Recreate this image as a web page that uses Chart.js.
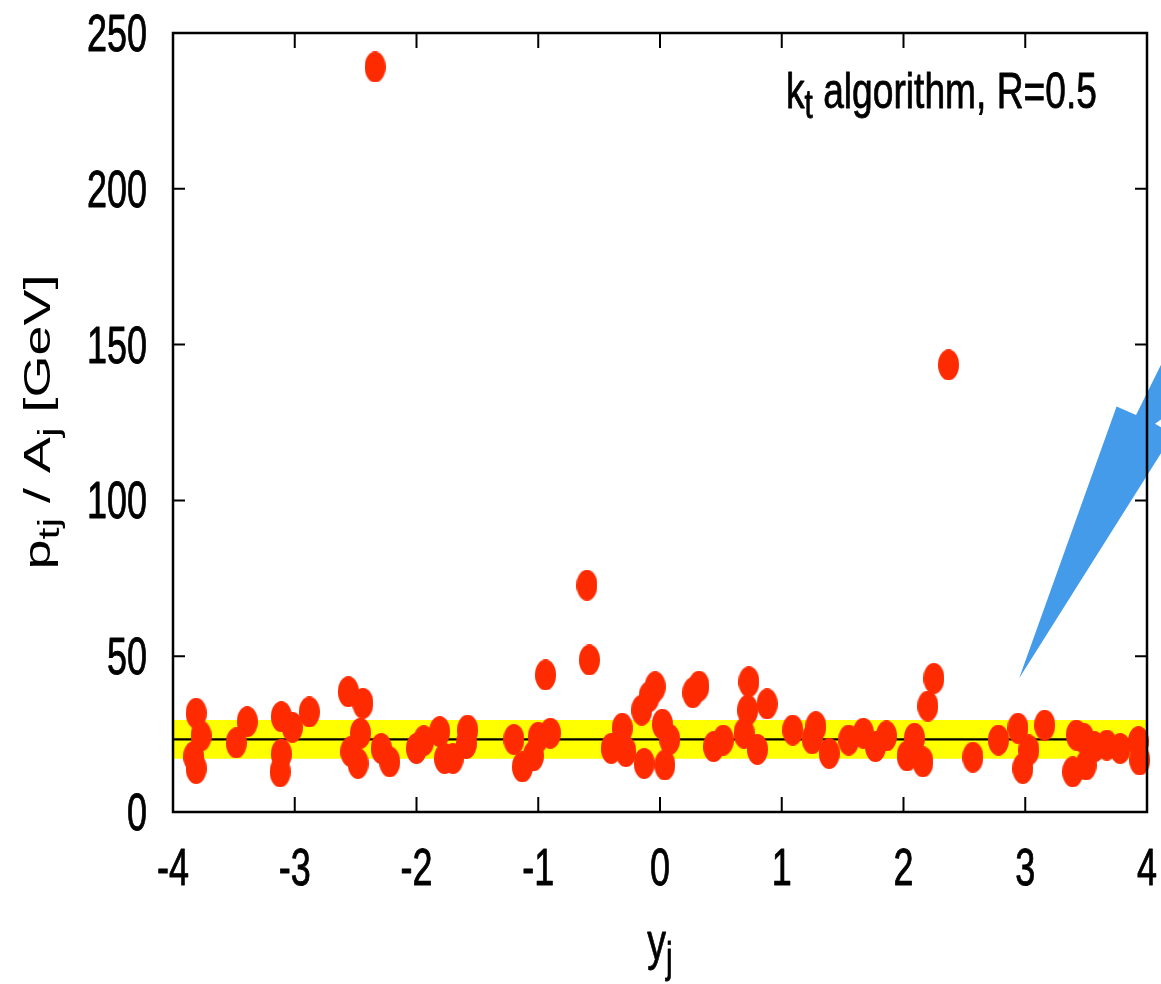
<!DOCTYPE html>
<html lang="en">
<head>
    <meta charset="UTF-8">
    <title>kt algorithm, R=0.5</title>
    <script src="https://cdn.jsdelivr.net/npm/chart.js"></script>
    <style>
        html, body { margin: 0; padding: 0; background: #fff; }
    </style>
</head>
<body>
    <canvas id="jetChart" width="1161" height="984"></canvas>

    <script>
        // jet rapidities and pt/area values
        const jetRap = [
            -3.83, -3.81, -3.81, -3.77, -3.48, -3.39, -3.12, -3.11, -3.11, -3.02,
            -2.88, -2.56, -2.54, -2.48, -2.46, -2.44, -2.34, -2.29, -2.22, -2.00,
            -1.94, -1.81, -1.77, -1.70, -1.59, -1.58, -1.20, -1.13, -1.04, -1.00,
            -0.94, -0.90, -0.60, -0.58, -0.40, -0.31, -0.28, -0.15, -0.13, -0.09,
            -0.04, 0.02, 0.04, 0.08, 0.27, 0.32, 0.44, 0.52, 0.69, 0.72,
            0.73, 0.80, 0.88, 1.09, 1.25, 1.28, 1.39, 1.55, 1.67, 1.77,
            1.86, 2.03, 2.09, 2.16, 2.20, 2.25, 2.37, 2.57, 2.78, 2.94,
            2.98, 3.03, 3.16, 3.39, 3.42, 3.48, 3.50, 3.57, 3.67, 3.78,
            3.93, 3.94
        ];
        const jetPtA = [
            17.8, 31.7, 14.0, 24.4, 22.2, 29.0, 12.9, 30.6, 18.6, 27.2,
            32.1, 38.6, 19.4, 15.6, 25.3, 34.9, 239.1, 20.4, 16.1, 20.4,
            22.9, 25.8, 17.2, 17.2, 22.0, 26.3, 23.3, 14.5, 18.0, 24.0,
            44.0, 25.3, 72.8, 48.8, 20.4, 26.9, 19.4, 32.7, 15.6, 37.0,
            40.2, 28.2, 15.1, 23.3, 38.3, 40.4, 21.0, 23.1, 25.3, 32.7,
            41.8, 20.1, 34.7, 26.3, 23.5, 27.4, 18.8, 23.1, 25.3, 21.0,
            24.4, 18.0, 23.7, 16.1, 34.0, 42.9, 143.5, 17.6, 23.1, 26.9,
            14.0, 19.9, 27.9, 12.9, 24.7, 23.7, 15.1, 21.0, 21.5, 20.4,
            22.6, 16.7
        ];

        // median rho and its band
        const rhoMedian = 23.3;
        const rhoLow = 17.1;
        const rhoHigh = 29.5;

        // blue arrow outline (goes past the right edge)
        const arrowX = [2.95, 3.75, 3.91, 4.115, 4.115, 4.066, 4.115, 4.115];
        const arrowY = [42.9, 130.1, 127.4, 143.5, 126.0, 124.6, 123.5, 115.1];

        const xTickVals = [-4, -3, -2, -1, 0, 1, 2, 3, 4];
        const yTickVals = [0, 50, 100, 150, 200, 250];

        const SANS = "'Liberation Sans', Arial, sans-serif";

        // ellipse marker
        const dot = document.createElement('canvas');
        dot.width = 21;
        dot.height = 31;
        const dctx = dot.getContext('2d');
        dctx.fillStyle = '#ff2b00';
        dctx.beginPath();
        dctx.ellipse(10.5, 15.5, 10.5, 15.5, 0, 0, Math.PI * 2);
        dctx.fill();

        // text with subscripts
        function richWidth(ctx, parts, size) {
            let w = 0;
            parts.forEach(p => {
                ctx.font = (p.sub ? size * 0.8 : size) + 'px ' + SANS;
                w += ctx.measureText(p.t).width;
            });
            return w;
        }
        function placeText(ctx, parts, o) {
            ctx.save();
            ctx.fillStyle = '#000';
            ctx.strokeStyle = '#000';
            ctx.lineJoin = 'round';
            ctx.textBaseline = 'alphabetic';
            ctx.textAlign = 'left';
            ctx.translate(o.x, o.y);
            if (o.rotate) ctx.rotate(-Math.PI / 2);
            const w = richWidth(ctx, parts, o.size);
            const sx = o.width ? o.width / w : o.scaleX;
            ctx.scale(sx, 1);
            let x = o.align === 'right' ? -w : (o.align === 'center' ? -w / 2 : 0);
            parts.forEach(p => {
                const s = p.sub ? o.size * 0.8 : o.size;
                const dy = p.sub ? o.size * (o.subShift || 0.2) : 0;
                ctx.font = s + 'px ' + SANS;
                ctx.fillText(p.t, x, dy);
                if (o.bold) {
                    ctx.lineWidth = o.bold;
                    ctx.strokeText(p.t, x, dy);
                }
                x += ctx.measureText(p.t).width;
            });
            ctx.restore();
        }

        const decor = {
            id: 'decor',
            afterDatasetsDraw(chart) {
                const ctx = chart.ctx;
                const xs = chart.scales.x, ys = chart.scales.y;
                const a = chart.chartArea;

                // arrow
                ctx.save();
                ctx.fillStyle = '#439be9';
                ctx.beginPath();
                arrowX.forEach((v, i) => {
                    const px = xs.getPixelForValue(v), py = ys.getPixelForValue(arrowY[i]);
                    if (i === 0) ctx.moveTo(px, py); else ctx.lineTo(px, py);
                });
                ctx.closePath();
                ctx.fill();
                ctx.restore();

                // frame and inward ticks
                ctx.save();
                ctx.strokeStyle = '#000';
                ctx.lineWidth = 2.5;
                ctx.strokeRect(a.left, a.top, a.right - a.left, a.bottom - a.top);
                ctx.lineWidth = 2;
                ctx.beginPath();
                ys.ticks.forEach(t => {
                    const py = ys.getPixelForValue(t.value);
                    ctx.moveTo(a.left, py); ctx.lineTo(a.left + 12, py);
                    ctx.moveTo(a.right, py); ctx.lineTo(a.right - 12, py);
                });
                xs.ticks.forEach(t => {
                    const px = xs.getPixelForValue(t.value);
                    ctx.moveTo(px, a.bottom); ctx.lineTo(px, a.bottom - 15);
                    ctx.moveTo(px, a.top); ctx.lineTo(px, a.top + 15);
                });
                ctx.stroke();
                ctx.restore();

                // tick labels (condensed look of the original)
                ys.ticks.forEach(t => {
                    placeText(ctx, [{ t: String(t.value) }],
                        { x: a.left - 26, y: ys.getPixelForValue(t.value) + 18, align: 'right', size: 51, scaleX: 0.705, bold: 0.9 });
                });
                xs.ticks.forEach(t => {
                    placeText(ctx, [{ t: String(t.value) }],
                        { x: xs.getPixelForValue(t.value), y: 885, align: 'center', size: 51, scaleX: 0.705, bold: 0.9 });
                });

                // labels
                placeText(ctx, [{ t: 'k' }, { t: 't', sub: true }, { t: ' algorithm, R=0.5' }],
                    { x: 1097, y: 108, align: 'right', size: 50, width: 311, bold: 0.8 });
                placeText(ctx, [{ t: 'p' }, { t: 'tj', sub: true }, { t: ' / A' }, { t: 'j', sub: true }, { t: ' [GeV]' }],
                    { x: 50, y: 422, align: 'center', size: 36, width: 295, rotate: true, subShift: 0.25 });
                placeText(ctx, [{ t: 'y' }, { t: 'j', sub: true }],
                    { x: 660, y: 959, align: 'center', size: 52, scaleX: 0.72, subShift: 0.25, bold: 0.8 });
            }
        };

        const ctx = document.getElementById('jetChart').getContext('2d');
        new Chart(ctx, {
            type: 'scatter',
            data: {
                datasets: [
                    {
                        label: 'jets',
                        data: jetRap.map((x, i) => ({ x: x, y: jetPtA[i] })),
                        pointStyle: dot,
                        pointRadius: 11,
                        clip: false,
                        order: 0
                    },
                    {
                        type: 'line',
                        label: 'rho',
                        data: [{ x: -4, y: rhoMedian }, { x: 4, y: rhoMedian }],
                        borderColor: '#000',
                        borderWidth: 2.3,
                        pointRadius: 0,
                        fill: false,
                        order: 1
                    },
                    {
                        type: 'line',
                        label: 'band',
                        data: [{ x: -4, y: rhoHigh }, { x: 4, y: rhoHigh }],
                        borderWidth: 0,
                        borderColor: 'rgba(0,0,0,0)',
                        backgroundColor: '#ffff00',
                        pointRadius: 0,
                        fill: { value: rhoLow },
                        order: 2
                    }
                ]
            },
            options: {
                responsive: false,
                animation: false,
                layout: { padding: { top: 33, right: 14, left: 0, bottom: 0 } },
                plugins: {
                    legend: { display: false },
                    tooltip: { enabled: false }
                },
                scales: {
                    x: {
                        type: 'linear',
                        min: -4,
                        max: 4,
                        afterBuildTicks: s => { s.ticks = xTickVals.map(v => ({ value: v })); },
                        afterFit: s => { s.height = 172; },
                        grid: { display: false },
                        border: { display: false },
                        ticks: { display: false }
                    },
                    y: {
                        type: 'linear',
                        min: 0,
                        max: 250,
                        afterBuildTicks: s => { s.ticks = yTickVals.map(v => ({ value: v })); },
                        afterFit: s => { s.width = 173; },
                        grid: { display: false },
                        border: { display: false },
                        ticks: { display: false }
                    }
                }
            },
            plugins: [decor]
        });
    </script>
</body>
</html>
